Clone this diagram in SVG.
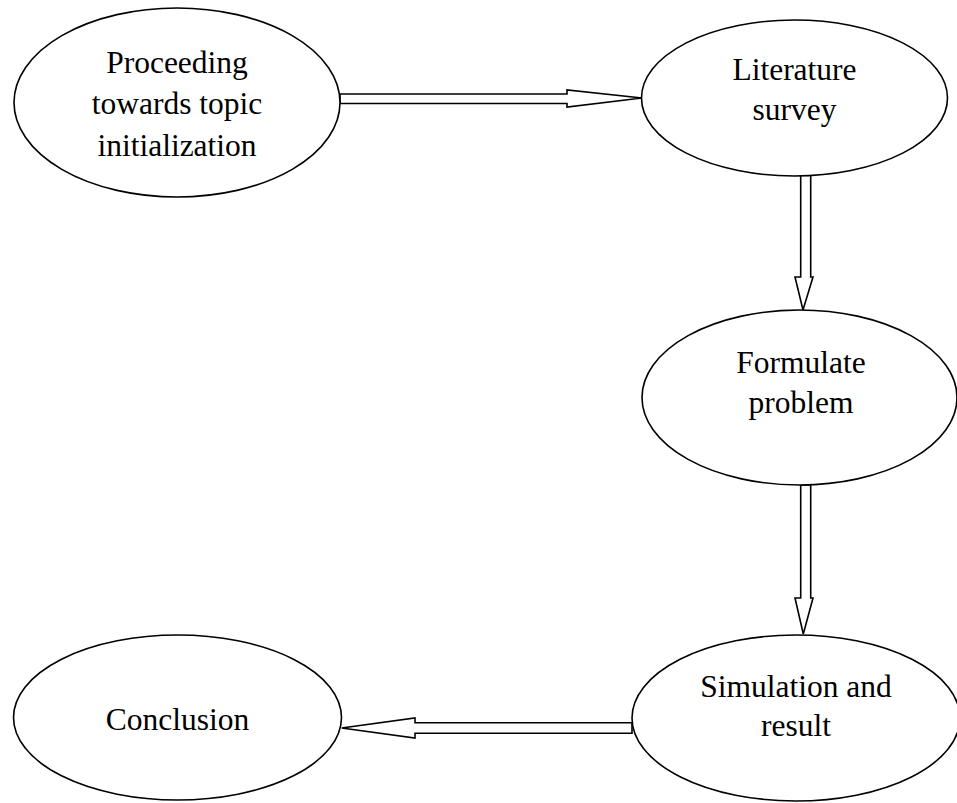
<svg xmlns="http://www.w3.org/2000/svg" width="957" height="803" viewBox="0 0 957 803">
  <style>
    .node ellipse { fill: #ffffff; stroke: #000000; stroke-width: 1.6; }
    .node text { font-family: "Liberation Serif", "Times New Roman", serif; font-size: 31.5px; fill: #000000; text-anchor: middle; }
    .arrow { fill: #ffffff; stroke: #000000; stroke-width: 1.6; stroke-linejoin: miter; }
  </style>
  <rect width="957" height="803" fill="#ffffff"/>

  <!-- block arrows between the steps -->
  <g id="connectors">
    <!-- topic initialization -> literature survey -->
    <polygon class="arrow" points="340,94 567,94 567,90 642,98 567,107 567,103.5 340,103.5"/>
    <!-- literature survey -> formulate problem -->
    <polygon class="arrow" points="800.7,175 810.7,175 810.7,277 813,277 803,310 795,277 800.7,277"/>
    <!-- formulate problem -> simulation and result -->
    <polygon class="arrow" points="800.7,485 810.7,485 810.7,598 813,598 803.3,634 795,598 800.7,598"/>
    <!-- simulation and result -> conclusion -->
    <polygon class="arrow" points="632,722.7 632,733.3 415,733.3 415,738 341.7,728 415,718 415,722.7"/>
  </g>

  <g id="node-topic" class="node">
    <ellipse cx="177" cy="102.5" rx="163" ry="94.5"/>
    <text x="177" y="72.5">Proceeding</text>
    <text x="177" y="114">towards topic</text>
    <text x="177" y="156">initialization</text>
  </g>

  <g id="node-literature" class="node">
    <ellipse cx="794.5" cy="98" rx="153" ry="78"/>
    <text x="794.5" y="80">Literature</text>
    <text x="794.5" y="120">survey</text>
  </g>

  <g id="node-formulate" class="node">
    <ellipse cx="799.5" cy="397.5" rx="157.5" ry="87.5"/>
    <text x="801" y="373">Formulate</text>
    <text x="801" y="413">problem</text>
  </g>

  <g id="node-simulation" class="node">
    <ellipse cx="796" cy="718" rx="164" ry="83"/>
    <text x="796" y="697">Simulation and</text>
    <text x="796" y="736">result</text>
  </g>

  <g id="node-conclusion" class="node">
    <ellipse cx="177.5" cy="717.5" rx="164" ry="82.5"/>
    <text x="177.5" y="729.5">Conclusion</text>
  </g>
</svg>
